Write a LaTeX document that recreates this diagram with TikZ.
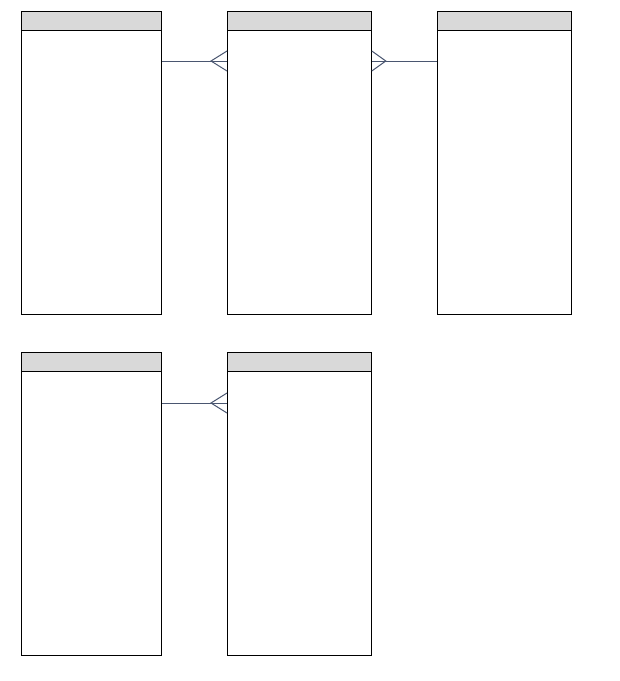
\documentclass[tikz,border=0pt]{standalone}
\usetikzlibrary{calc}
\definecolor{hdrgray}{HTML}{D9D9D9}
\definecolor{relblue}{HTML}{4A5670}
\tikzset{
  entity/.style={draw=black, line width=0.8pt, anchor=north west, inner sep=0pt, minimum height=303pt},
  entityhdr/.style={draw=black, fill=hdrgray, line width=0.8pt, anchor=north west, inner sep=0pt, minimum height=18.5pt},
  rel/.style={draw=relblue, line width=1pt},
}
\begin{document}
\begin{tikzpicture}[x=1pt, y=-1pt]
  \useasboundingbox (0,0) rectangle (620,681);
  % entity boxes
  \foreach \name/\x/\y/\w in {cust/21/11/140, ord/227/11/144, prod/437/11/134, dept/21/352/140, emp/227/352/144} {
    \node[entity, minimum width=\w pt] (\name) at (\x,\y) {};
    \node[entityhdr, minimum width=\w pt] (\name-h) at (\x,\y) {};
  }
  % relation ends
  \coordinate (cust-r) at ([yshift=-50pt]cust.north east);
  \coordinate (ord-l) at ([yshift=-50pt]ord.north west);
  \coordinate (ord-r) at ([yshift=-50pt]ord.north east);
  \coordinate (prod-l) at ([yshift=-50pt]prod.north west);
  \coordinate (dept-r) at ([yshift=-51pt]dept.north east);
  \coordinate (emp-l) at ([yshift=-51pt]emp.north west);
  % relations
  \draw[rel] (cust-r) -- (ord-l);
  \draw[rel] (ord-r) -- (prod-l);
  \draw[rel] (dept-r) -- (emp-l);
  % crow's feet
  \draw[rel] ([yshift=-10pt]ord-l) -- ([xshift=-16pt]ord-l) -- ([yshift=10pt]ord-l);
  \draw[rel] ([yshift=-10pt]ord-r) -- ([xshift=14pt]ord-r) -- ([yshift=10pt]ord-r);
  \draw[rel] ([yshift=-10pt]emp-l) -- ([xshift=-16pt]emp-l) -- ([yshift=10pt]emp-l);
\end{tikzpicture}
\end{document}
